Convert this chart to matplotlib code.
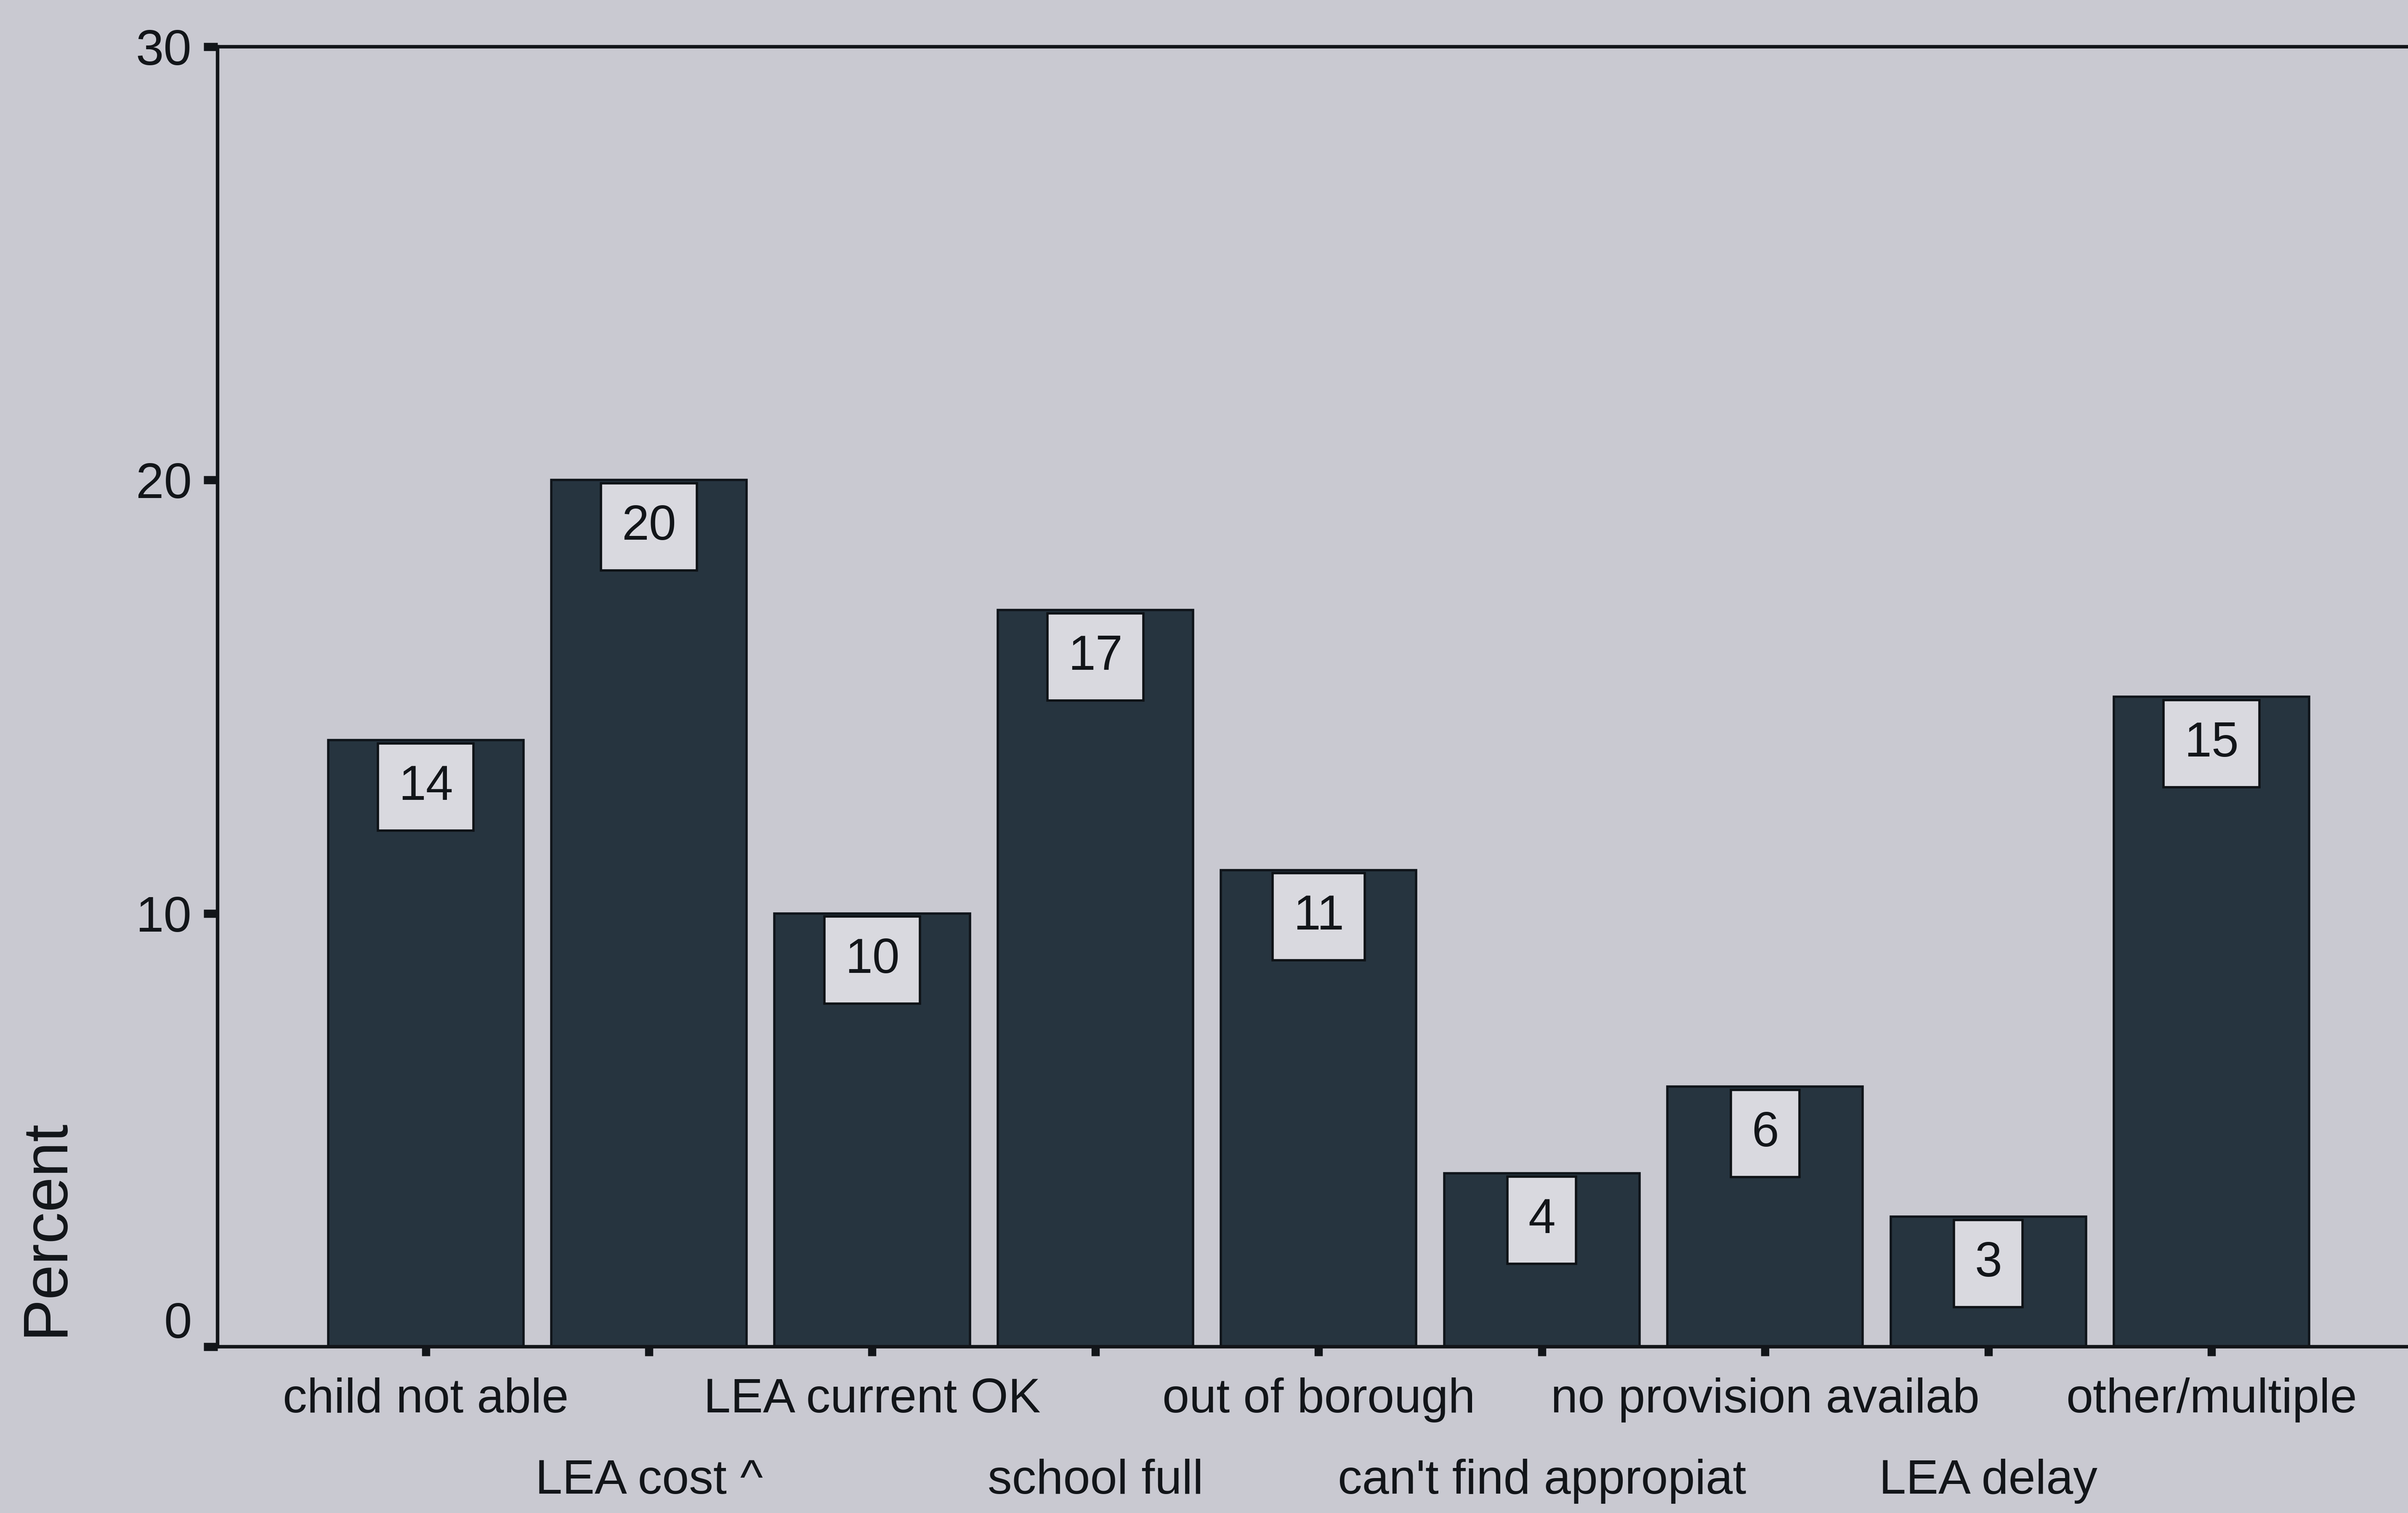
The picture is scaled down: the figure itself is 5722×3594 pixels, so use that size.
import matplotlib
matplotlib.use("Agg")
import matplotlib.pyplot as plt
from matplotlib.transforms import ScaledTranslation

# Reasons for placement outcome (percent of cases)
categories = [
    "child not able", "LEA cost ^", "LEA current OK", "school full",
    "out of borough", "can't find appropiat", "no provision availab",
    "LEA delay", "other/multiple",
]
percent = [14, 20, 10, 17, 11, 4, 6, 3, 15]
y_ticks = [0, 10, 20, 30]

BG = "#c9c9d1"
BAR = "#26343f"
INK = "#121519"
BOX = "#d9d9df"

plt.rcParams["font.family"] = ["Liberation Sans", "DejaVu Sans"]

W, H, DPI = 5722, 3594, 100
fig = plt.figure(figsize=(W / DPI, H / DPI), dpi=DPI, facecolor=BG)
ax = fig.add_axes([0.0903, 0.110, 0.9197, 0.859])
ax.set_facecolor(BG)

x = list(range(len(categories)))
ax.bar(x, percent, width=0.875, color=BAR, edgecolor="#0f141a", linewidth=4, zorder=2)

ax.set_xlim(-0.933, 8.988)
ax.set_ylim(0, 30)

for side in ("left", "bottom", "top"):
    ax.spines[side].set_linewidth(6)
    ax.spines[side].set_color(INK)
ax.spines["right"].set_visible(False)

ax.set_yticks(y_ticks)
ax.set_yticklabels([str(v) for v in y_ticks])
ax.set_xticks(x)
ax.set_xticklabels([""] * len(x))
ax.tick_params(axis="y", direction="out", length=24, width=14, pad=20,
               labelsize=86, colors=INK)
ax.tick_params(axis="x", direction="out", length=16, width=14, pad=0,
               colors=INK)

# the zero label sits slightly above the baseline
zero_lbl = ax.get_yticklabels()[0]
zero_lbl.set_transform(zero_lbl.get_transform() +
                       ScaledTranslation(0, 46 / 72, fig.dpi_scale_trans))

# category names staggered on two rows
for i, name in enumerate(categories):
    off = 91 if i % 2 == 0 else 230
    ax.annotate(name, xy=(i, 0), xycoords=("data", "axes fraction"),
                xytext=(0, -off), textcoords="offset points",
                ha="center", va="center", fontsize=83, color=INK,
                annotation_clip=False)

# boxed value labels just inside the top of each bar
for i, v in enumerate(percent):
    ax.annotate(str(v), xy=(i, v), xytext=(0, -80), textcoords="offset points",
                ha="center", va="center", fontsize=84, color=INK, zorder=4,
                bbox=dict(boxstyle="square,pad=0.42", facecolor=BOX,
                          edgecolor="#0e1216", linewidth=4))

fig.text(0.0192, 0.117, "Percent", rotation=90, ha="center", va="bottom",
         fontsize=108, color=INK)

fig.savefig("out.png", dpi=DPI, facecolor=BG)
